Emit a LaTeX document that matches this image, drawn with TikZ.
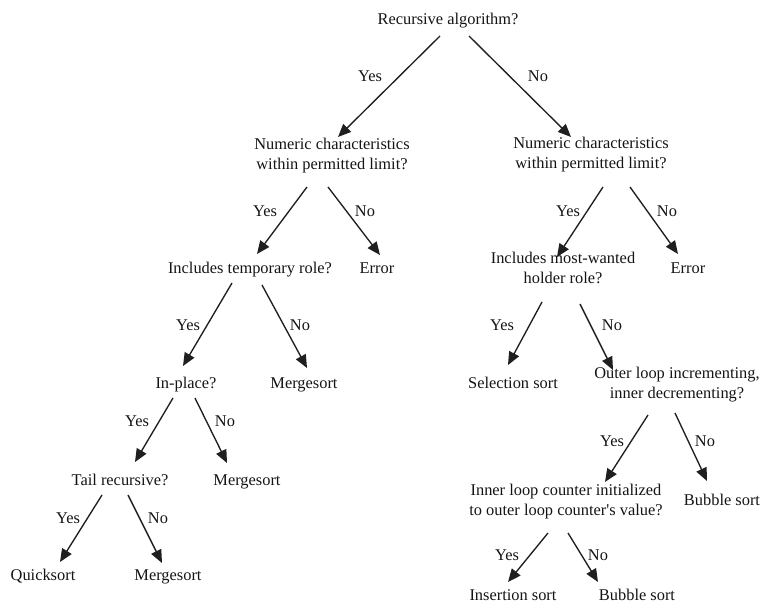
\documentclass[tikz,border=0pt]{standalone}
\usepackage{fontspec}
\setmainfont{Liberation Serif}[Ligatures=TeXOff]
\usetikzlibrary{arrows.meta,calc}
\begin{document}
\begin{tikzpicture}[x=1pt,y=-1pt,
  txt/.style={inner sep=0pt,align=center,text height=11pt,text depth=3.5pt,
    font=\fontsize{16.4}{20}\selectfont,text=black!92},
  lbl/.style={txt},
  arr/.style={line width=1.35pt,draw=black!88,-{Triangle[length=13pt,width=11pt]}}]
\useasboundingbox (0,0) rectangle (764,608);
% nodes
\node[txt] (root) at (448,21) {Recursive algorithm?};
\node[txt] (nl) at (332,166) {Numeric characteristics\\within permitted limit?};
\node[txt] (nr) at (591,165) {Numeric characteristics\\within permitted limit?};
\node[txt] (itr) at (250,270) {Includes temporary role?};
\node[txt] (errL) at (377,270) {Error};
\node[txt] (imw) at (563,280) {Includes most-wanted\\holder role?};
\node[txt] (errR) at (688,270) {Error};
\node[txt] (inplace) at (186,385) {In-place?};
\node[txt] (mergeA) at (304,385) {Mergesort};
\node[txt] (sel) at (513,385) {Selection sort};
\node[txt] (outer) at (677,395) {Outer loop incrementing,\\inner decrementing?};
\node[txt] (tail) at (120,482) {Tail recursive?};
\node[txt] (mergeB) at (247,482) {Mergesort};
\node[txt] (inner) at (566,512) {Inner loop counter initialized\\to outer loop counter's value?};
\node[txt] (bubA) at (722,502) {Bubble sort};
\node[txt] (quick) at (43,577) {Quicksort};
\node[txt] (mergeC) at (168,577) {Mergesort};
\node[txt] (ins) at (513,597) {Insertion sort};
\node[txt] (bubB) at (637,597) {Bubble sort};
% arrows
\draw[arr] ($(root)+(-8,15)$) -- ($(nl)+(6,-29)$);
\draw[arr] ($(root)+(21,15)$) -- ($(nr)+(-20,-28)$);
\draw[arr] ($(nl)+(-25,21)$) -- ($(itr)+(7,-16)$);
\draw[arr] ($(nl)+(-4,21)$) -- ($(errL)+(3,-15)$);
\draw[arr] ($(itr)+(-18,13)$) -- ($(inplace)+(-3,-19)$);
\draw[arr] ($(itr)+(12,15)$) -- ($(mergeA)+(3,-17)$);
\draw[arr] ($(inplace)+(-13,13)$) -- ($(tail)+(15,-20)$);
\draw[arr] ($(inplace)+(9,13)$) -- ($(mergeB)+(-20,-19)$);
\draw[arr] ($(tail)+(-18,13)$) -- ($(quick)+(17,-15)$);
\draw[arr] ($(tail)+(8,13)$) -- ($(mergeC)+(-6,-14)$);
\draw[arr] ($(nr)+(12,22)$) -- ($(imw)+(-6,-23)$);
\draw[arr] ($(nr)+(39,22)$) -- ($(errR)+(-10,-16)$);
\draw[arr] ($(imw)+(-21,22)$) -- ($(sel)+(-5,-20)$);
\draw[arr] ($(imw)+(17,24)$) -- ($(outer)+(-64,-25)$);
\draw[arr] ($(outer)+(-29,20)$) -- ($(inner)+(39,-30)$);
\draw[arr] ($(outer)+(-2,18)$) -- ($(bubA)+(-15,-21)$);
\draw[arr] ($(inner)+(-18,21)$) -- ($(ins)+(-5,-15)$);
\draw[arr] ($(inner)+(2,21)$) -- ($(bubB)+(-39,-15)$);
% labels
\node[lbl] (y1) at (370,78) {Yes};
\node[lbl] (n1) at (538,78) {No};
\node[lbl] (y2) at (265,213) {Yes};
\node[lbl] (n2) at (365,213) {No};
\node[lbl] (y3) at (188,327) {Yes};
\node[lbl] (n3) at (300,327) {No};
\node[lbl] (y4) at (137,423) {Yes};
\node[lbl] (n4) at (225,423) {No};
\node[lbl] (y5) at (68,520) {Yes};
\node[lbl] (n5) at (158,520) {No};
\node[lbl] (y6) at (568,213) {Yes};
\node[lbl] (n6) at (667,213) {No};
\node[lbl] (y7) at (502,327) {Yes};
\node[lbl] (n7) at (612,327) {No};
\node[lbl] (y8) at (612,443) {Yes};
\node[lbl] (n8) at (705,443) {No};
\node[lbl] (y9) at (507,557) {Yes};
\node[lbl] (n9) at (598,557) {No};
\end{tikzpicture}
\end{document}
